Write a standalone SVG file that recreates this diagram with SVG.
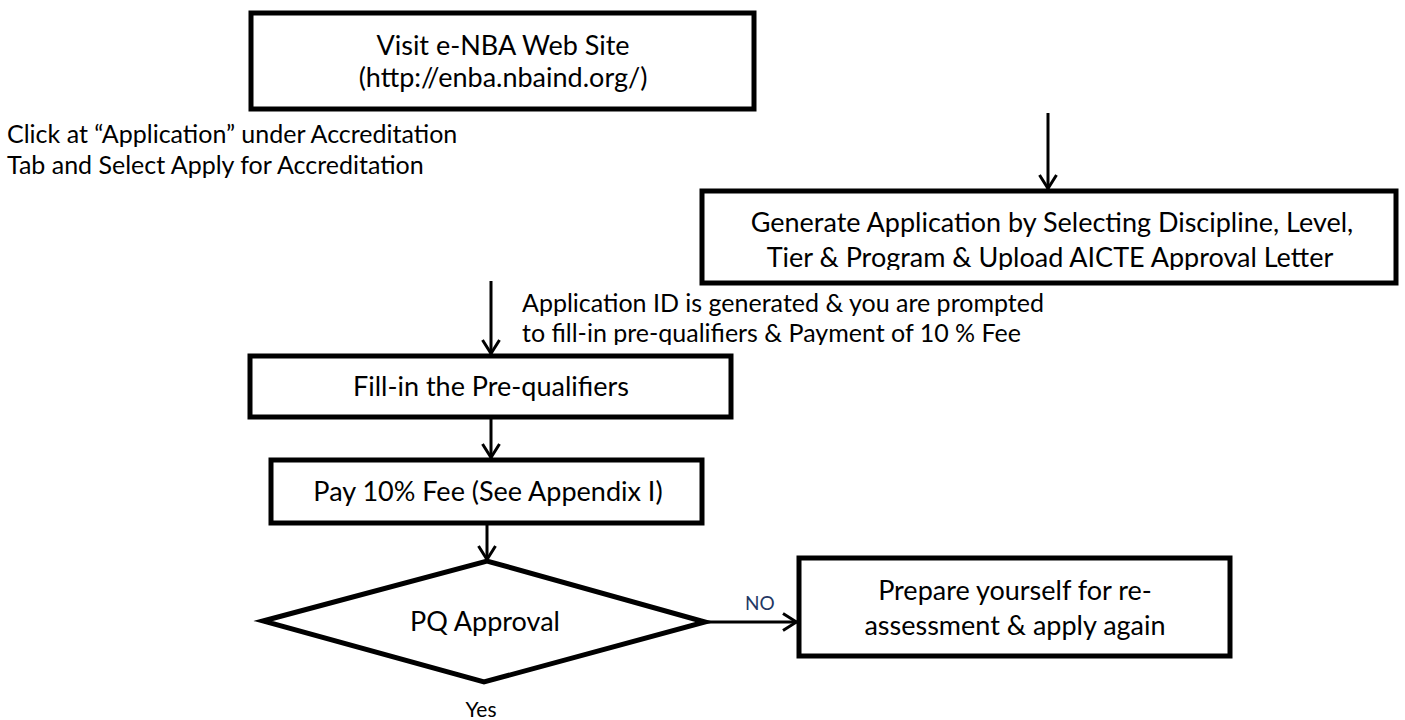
<svg xmlns="http://www.w3.org/2000/svg" width="1405" height="720" viewBox="0 0 1405 720">
<style>
.box{fill:#fff;stroke:#000;stroke-width:5;stroke-linejoin:miter}
.t{font-family:Lato,"Liberation Sans",sans-serif;font-size:27px;fill:#000;text-anchor:middle}
.s{font-family:Lato,"Liberation Sans",sans-serif;font-size:25px;fill:#000}
.c{stroke:#000;stroke-width:3;fill:none}
</style>
<defs>
<marker id="ah" viewBox="0 0 16 20" refX="15" refY="10" markerWidth="16" markerHeight="20" markerUnits="userSpaceOnUse" orient="auto">
<path d="M1,1.5 L14.5,10 L1,18.5" fill="none" stroke="#000" stroke-width="3"/>
</marker>
<clipPath id="clip2"><rect x="700" y="190" width="705" height="80"/></clipPath>
<clipPath id="clipL2"><rect x="500" y="285" width="600" height="60"/></clipPath>
</defs>
<rect width="1405" height="720" fill="#fff"/>
<g id="n1"><rect class="box" x="251" y="13" width="503" height="96"/>
<text class="t" x="503" y="55">Visit e-NBA Web Site</text>
<text class="t" x="503" y="87">(http://enba.nbaind.org/)</text></g>
<g id="l1"><text class="s" x="7" y="143">Click at “Application” under Accreditation</text>
<text class="s" x="7" y="174">Tab and Select Apply for Accreditation</text></g>
<g id="n2"><rect class="box" x="702" y="191" width="694" height="92"/>
<g clip-path="url(#clip2)">
<text class="t" x="1052" y="232">Generate Application by Selecting Discipline, Level,</text>
<text class="t" x="1050" y="267">Tier &amp; Program &amp; Upload AICTE Approval Letter</text></g></g>
<g id="l2" clip-path="url(#clipL2)"><text class="s" x="522" y="312">Application ID is generated &amp; you are prompted</text>
<text class="s" x="522" y="342">to fill-in pre-qualifiers &amp; Payment of 10 % Fee</text></g>
<g id="n3"><rect class="box" x="250" y="356" width="481" height="61"/>
<text class="t" x="491" y="396">Fill-in the Pre-qualifiers</text></g>
<g id="n4"><rect class="box" x="271" y="460" width="431" height="63"/>
<text class="t" x="488" y="501">Pay 10% Fee (See Appendix I)</text></g>
<g id="n5"><polygon class="box" points="263,621 487,561 705,622 484,682"/>
<text class="t" x="485" y="631">PQ Approval</text></g>
<g id="n6"><rect class="box" x="799" y="558" width="431" height="98"/>
<text class="t" x="1015" y="600">Prepare yourself for re-</text>
<text class="t" x="1015" y="635">assessment &amp; apply again</text></g>
<g id="connectors">
<line class="c" x1="1048" y1="113" x2="1048" y2="189" marker-end="url(#ah)"/>
<line class="c" x1="491" y1="281" x2="491" y2="354" marker-end="url(#ah)"/>
<line class="c" x1="491" y1="418" x2="491" y2="458" marker-end="url(#ah)"/>
<line class="c" x1="487" y1="524" x2="487" y2="560" marker-end="url(#ah)"/>
<line class="c" x1="705" y1="622" x2="797" y2="622" marker-end="url(#ah)"/>
<text x="745" y="610" style="font-family:Lato,'Liberation Sans',sans-serif;font-size:19px;fill:#1f3864">NO</text>
<text x="481" y="717" style="font-family:Lato,'Liberation Sans',sans-serif;font-size:21px;fill:#000;text-anchor:middle">Yes</text>
</g>
</svg>
